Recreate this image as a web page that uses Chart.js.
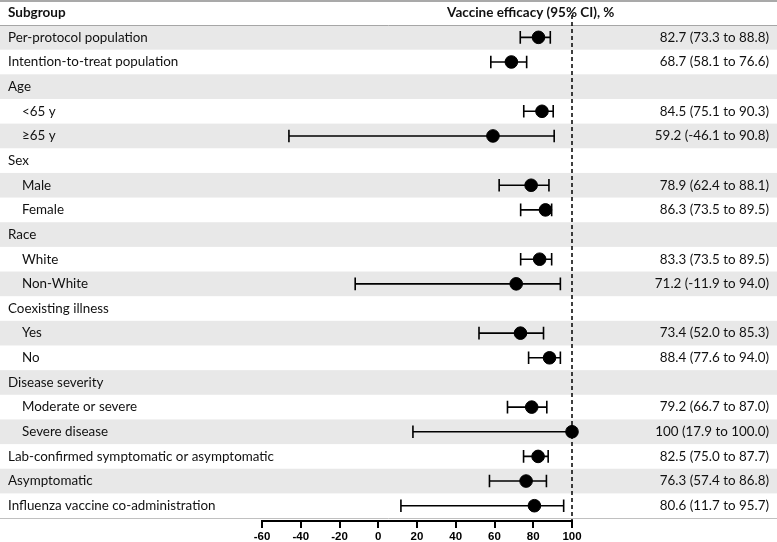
<!DOCTYPE html>
<html>
<head>
<meta charset="utf-8">
<script src="https://cdn.jsdelivr.net/npm/chart.js@4/dist/chart.umd.min.js"></script>
<style>
  html, body { margin: 0; padding: 0; background: #fff; }
  #wrap { width: 777px; height: 542px; }
</style>
</head>
<body>
<div id="wrap"><canvas id="forest"></canvas></div>
<script>
// Subgroup rows (top to bottom)
const subgroups = [
    "Per-protocol population", "Intention-to-treat population",
    "Age", "<65 y", "≥65 y",
    "Sex", "Male", "Female",
    "Race", "White", "Non-White",
    "Coexisting illness", "Yes", "No",
    "Disease severity", "Moderate or severe", "Severe disease",
    "Lab-confirmed symptomatic or asymptomatic", "Asymptomatic",
    "Influenza vaccine co-administration"
];
const indented = [0, 0, 0, 1, 1, 0, 1, 1, 0, 1, 1, 0, 1, 1, 0, 1, 1, 0, 0, 0];
const efficacy = [82.7, 68.7, null, 84.5, 59.2, null, 78.9, 86.3, null, 83.3, 71.2, null, 73.4, 88.4, null, 79.2, 100, 82.5, 76.3, 80.6];
const lowerCI  = [73.3, 58.1, null, 75.1, -46.1, null, 62.4, 73.5, null, 73.5, -11.9, null, 52.0, 77.6, null, 66.7, 17.9, 75.0, 57.4, 11.7];
const upperCI  = [88.8, 76.6, null, 90.3, 90.8, null, 88.1, 89.5, null, 89.5, 94.0, null, 85.3, 94.0, null, 87.0, 100.0, 87.7, 86.8, 95.7];
const xTicks = [-60, -40, -20, 0, 20, 40, 60, 80, 100];

const textFont = "Lato, 'Open Sans', sans-serif";

// CI text shown in the right column
function ciLabel(i) {
    if (efficacy[i] === null) return "";
    return efficacy[i] + " (" + lowerCI[i].toFixed(1) + " to " + upperCI[i].toFixed(1) + ")";
}

const points = [];
efficacy.forEach((v, i) => { if (v !== null) points.push({ x: v, y: i }); });

// Table background, lines and text
const tablePlugin = {
    id: "table",
    beforeDraw(chart) {
        const ctx = chart.ctx;
        const y = chart.scales.y;
        const W = chart.width;
        ctx.save();
        subgroups.forEach((s, i) => {
            if (i % 2 === 0) {
                const top = y.getPixelForValue(i - 0.5);
                const bot = y.getPixelForValue(i + 0.5);
                ctx.fillStyle = "#e8e8e8";
                ctx.fillRect(0, top, W, bot - top);
            }
        });
        // rules
        ctx.strokeStyle = "#8c8c8c";
        ctx.lineWidth = 1.5;
        ctx.beginPath(); ctx.moveTo(0, 1); ctx.lineTo(W, 1); ctx.stroke();
        ctx.strokeStyle = "#a6a6a6";
        ctx.lineWidth = 1;
        let hy = Math.round(y.getPixelForValue(-0.5)) + 0.5;
        ctx.beginPath(); ctx.moveTo(0, hy); ctx.lineTo(W, hy); ctx.stroke();
        let by = Math.round(y.getPixelForValue(subgroups.length - 0.5)) + 0.5;
        ctx.strokeStyle = "#c0c0c0";
        ctx.beginPath(); ctx.moveTo(0, by); ctx.lineTo(W, by); ctx.stroke();

        // texts
        ctx.fillStyle = "#111";
        ctx.textBaseline = "middle";
        ctx.font = "bold 13.5px " + textFont;
        ctx.textAlign = "left";
        ctx.fillText("Subgroup", 8, y.getPixelForValue(-1));
        ctx.textAlign = "center";
        ctx.fillText("Vaccine efficacy (95% CI), %", chart.scales.x.getPixelForValue(78.7), y.getPixelForValue(-1));
        ctx.font = "13.4px " + textFont;
        subgroups.forEach((s, i) => {
            const py = y.getPixelForValue(i);
            ctx.textAlign = "left";
            ctx.fillText(s, indented[i] ? 22 : 8, py);
            ctx.textAlign = "right";
            ctx.fillText(ciLabel(i), 769, py);
        });
        ctx.restore();
    },
    beforeDatasetsDraw(chart) {
        const ctx = chart.ctx;
        const x = chart.scales.x;
        const y = chart.scales.y;
        ctx.save();
        // reference line at 100%
        const rx = x.getPixelForValue(100);
        ctx.strokeStyle = "#000";
        ctx.lineWidth = 1.5;
        ctx.setLineDash([4, 3]);
        ctx.beginPath(); ctx.moveTo(rx, 15); ctx.lineTo(rx, chart.chartArea.bottom); ctx.stroke();
        ctx.setLineDash([]);
        // whiskers
        ctx.lineWidth = 1.6;
        efficacy.forEach((v, i) => {
            if (v === null) return;
            const py = y.getPixelForValue(i);
            const x1 = x.getPixelForValue(lowerCI[i]);
            const x2 = x.getPixelForValue(upperCI[i]);
            ctx.beginPath();
            ctx.moveTo(x1, py); ctx.lineTo(x2, py);
            ctx.moveTo(x1, py - 6.3); ctx.lineTo(x1, py + 6.3);
            ctx.moveTo(x2, py - 6.3); ctx.lineTo(x2, py + 6.3);
            ctx.stroke();
        });
        ctx.restore();
    }
};

new Chart(document.getElementById("forest"), {
    type: "scatter",
    data: {
        datasets: [{
            data: points,
            pointRadius: 6.3,
            pointHoverRadius: 6.3,
            backgroundColor: "#000",
            borderColor: "#000",
            clip: false
        }]
    },
    options: {
        responsive: true,
        maintainAspectRatio: false,
        animation: false,
        events: [],
        layout: { autoPadding: false, padding: { left: 262, right: 205, top: 1, bottom: 0 } },
        plugins: { legend: { display: false }, tooltip: { enabled: false } },
        scales: {
            x: {
                type: "linear",
                position: "bottom",
                min: -60,
                max: 100,
                afterBuildTicks: (axis) => { axis.ticks = xTicks.map(v => ({ value: v })); },
                afterFit: (axis) => { axis.height = 21; },
                grid: { drawOnChartArea: false, drawTicks: true, tickLength: 7, color: "#000", lineWidth: 2 },
                border: { display: true, color: "#000", width: 2 },
                ticks: {
                    color: "#000",
                    padding: 2,
                    maxRotation: 0,
                    font: { family: "'Liberation Sans', Arial, sans-serif", size: 11.5, weight: "bold" }
                }
            },
            y: {
                type: "linear",
                reverse: true,
                min: -1.474,
                max: 19.62,
                display: false
            }
        }
    },
    plugins: [tablePlugin]
});
</script>
</body>
</html>
